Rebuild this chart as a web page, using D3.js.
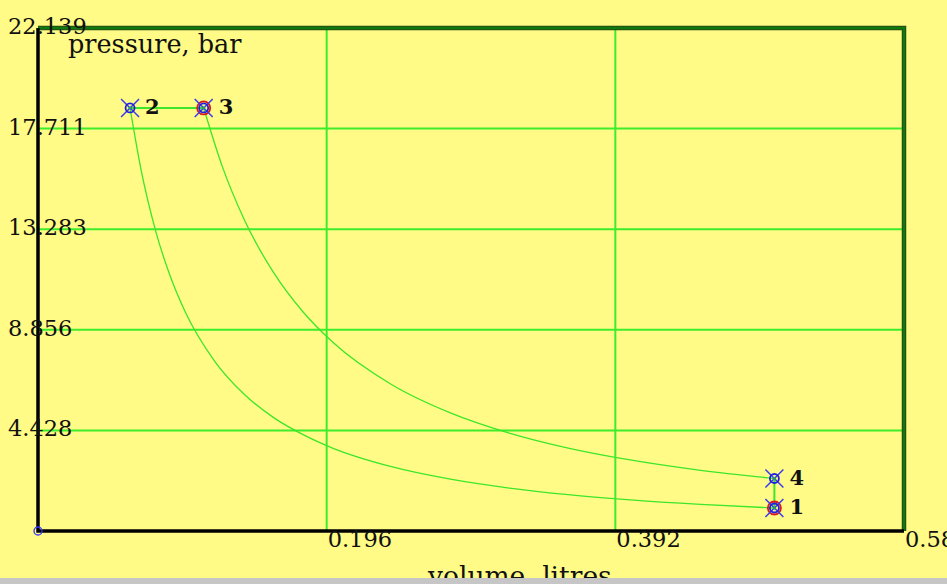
<!DOCTYPE html>
<html>
<head>
<meta charset="utf-8">
<script src="https://cdn.jsdelivr.net/npm/d3@7"></script>
<style>
  html, body { margin: 0; padding: 0; background: #fffb86; overflow: hidden; }
  svg { display: block; }
  text { font-family: "DejaVu Serif", serif; fill: #111; }
</style>
</head>
<body>
<svg id="chart" width="947" height="584"></svg>
<script>
// ---- data ----
const xTicks = [0.196, 0.392, 0.588];
const xTickLabels = ["0.196", "0.392", "0.588"];
const yTicks = [4.428, 8.856, 13.283, 17.711, 22.139];
const yTickLabels = ["4.428", "8.856", "13.283", "17.711", "22.139"];
const xMax = 0.588;
const yMax = 22.139;

// compression curve 1 -> 2 (volume, pressure)
const compressionV = [0.0625, 0.07, 0.08, 0.09, 0.10, 0.12, 0.14, 0.16, 0.18, 0.20, 0.24, 0.28, 0.32, 0.36, 0.40, 0.45, 0.50];
const compressionP = [18.62, 15.89, 13.18, 11.18, 9.64, 7.47, 6.02, 4.99, 4.24, 3.65, 2.83, 2.28, 1.89, 1.60, 1.38, 1.17, 1.013];
// expansion curve 3 -> 4
const expansionV = [0.1125, 0.125, 0.14, 0.16, 0.18, 0.20, 0.24, 0.28, 0.32, 0.36, 0.40, 0.45, 0.50];
const expansionP = [18.62, 16.07, 13.71, 11.37, 9.64, 8.32, 6.45, 5.20, 4.31, 3.65, 3.15, 2.67, 2.31];

// state points
const pointLabels = ["1", "2", "3", "4"];
const pointV = [0.5, 0.0625, 0.1125, 0.5];
const pointP = [1.013, 18.62, 18.62, 2.31];
const pointRed = [true, false, true, false];

// ---- drawing ----
const svg = d3.select("#chart");
const L = 38, R = 904, T = 28, B = 531;
const x = d3.scaleLinear().domain([0, xMax]).range([L, R]);
const y = d3.scaleLinear().domain([0, yMax]).range([B, T]);

svg.append("rect").attr("x", 0).attr("y", 0).attr("width", 947).attr("height", 584).attr("fill", "#fffb86");

const grid = "#3ded2a";
// horizontal gridlines
svg.append("g").selectAll("line").data(yTicks.slice(0, -1)).join("line")
  .attr("x1", L).attr("x2", R).attr("y1", d => y(d)).attr("y2", d => y(d))
  .attr("stroke", grid).attr("stroke-width", 2);
// vertical gridlines
svg.append("g").selectAll("line").data(xTicks.slice(0, -1)).join("line")
  .attr("y1", T).attr("y2", B).attr("x1", d => x(d)).attr("x2", d => x(d))
  .attr("stroke", grid).attr("stroke-width", 2);

// top and right frame (dark green)
svg.append("path")
  .attr("d", `M${x(0)},${y(yMax)}H${x(xMax)}V${y(0)}`)
  .attr("fill", "none").attr("stroke", "#2a4a10").attr("stroke-width", 4.5);
svg.append("path")
  .attr("d", `M${x(0)},${y(yMax)}H${x(xMax)}V${y(0)}`)
  .attr("fill", "none").attr("stroke", "#0c7a0c").attr("stroke-width", 2.5);

// cycle curves
const curveColor = "#3de62a";
const line = d3.line().x(d => x(d[0])).y(d => y(d[1])).curve(d3.curveMonotoneX);
svg.append("path").datum(compressionV.map((v, i) => [v, compressionP[i]]))
  .attr("d", line).attr("fill", "none").attr("stroke", curveColor).attr("stroke-width", 1.3);
svg.append("path").datum(expansionV.map((v, i) => [v, expansionP[i]]))
  .attr("d", line).attr("fill", "none").attr("stroke", curveColor).attr("stroke-width", 1.3);
// 2 -> 3 constant pressure, 4 -> 1 constant volume
svg.append("line").attr("x1", x(pointV[1])).attr("y1", y(pointP[1])).attr("x2", x(pointV[2])).attr("y2", y(pointP[2]))
  .attr("stroke", curveColor).attr("stroke-width", 2);
svg.append("line").attr("x1", x(pointV[3])).attr("y1", y(pointP[3])).attr("x2", x(pointV[0])).attr("y2", y(pointP[0]))
  .attr("stroke", curveColor).attr("stroke-width", 2);

// left and bottom axes (black)
svg.append("path")
  .attr("d", `M${x(0)},${y(yMax)}V${y(0)}H${x(xMax)}`)
  .attr("fill", "none").attr("stroke", "#000").attr("stroke-width", 3.5);
svg.append("circle").attr("cx", x(0)).attr("cy", y(0)).attr("r", 4)
  .attr("fill", "none").attr("stroke", "#3333ff").attr("stroke-width", 1.3);

// tick labels
svg.append("g").selectAll("text").data(yTicks).join("text")
  .attr("x", 8).attr("y", d => y(d) + 6)
  .attr("font-size", 22.5).text((d, i) => yTickLabels[i]);
svg.append("g").selectAll("text").data(xTicks).join("text")
  .attr("x", d => x(d) + 1).attr("y", y(0) + 16)
  .attr("font-size", 22.5).text((d, i) => xTickLabels[i]);

// axis titles
svg.append("text").attr("x", 68).attr("y", 53).attr("font-size", 25.5).text("pressure, bar");
svg.append("text").attr("x", 428).attr("y", 585).attr("font-size", 26.5).text("volume, litres");

// state point markers
const pts = pointV.map((v, i) => ({ v, p: pointP[i], label: pointLabels[i], red: pointRed[i] }));
const g = svg.append("g").selectAll("g").data(pts).join("g")
  .attr("transform", d => `translate(${x(d.v)},${y(d.p)})`);
g.filter(d => d.red).append("circle").attr("r", 6.5).attr("fill", "none").attr("stroke", "#e01818").attr("stroke-width", 1.8);
g.append("path").attr("d", "M-9,-9L9,9M-9,9L9,-9").attr("stroke", "#3a3af0").attr("stroke-width", 1.5);
g.append("circle").attr("r", 4.5).attr("fill", "none").attr("stroke", "#2020e0").attr("stroke-width", 1.8);
g.append("circle").attr("r", 1.6).attr("fill", "#2aa05a");
g.append("text").attr("x", 15).attr("y", 6).attr("font-size", 21).attr("font-weight", "bold").text(d => d.label);

// bottom grey band
svg.append("rect").attr("x", 0).attr("y", 578).attr("width", 947).attr("height", 6).attr("fill", "#c6c6c6");
</script>
</body>
</html>
